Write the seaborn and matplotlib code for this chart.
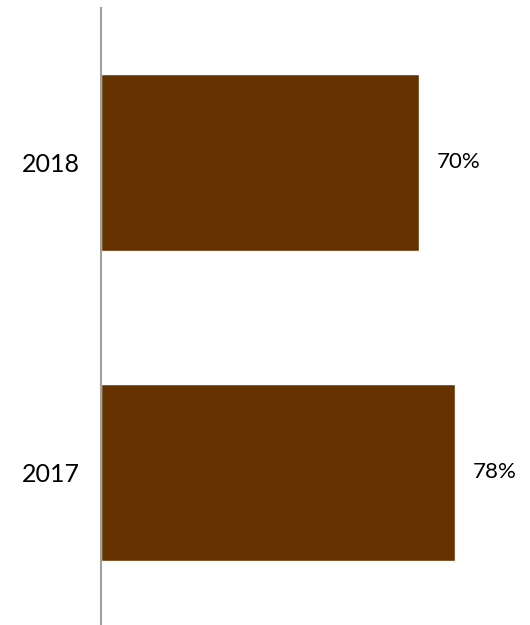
import matplotlib
matplotlib.use("Agg")
import matplotlib.pyplot as plt
import seaborn as sns
import pandas as pd

years = ["2018", "2017"]
values = [70, 78]
labels = ["70%", "78%"]

sns.set_style("white")
plt.rcParams['font.family'] = ['Lato', 'DejaVu Sans']

df = pd.DataFrame({"year": years, "value": values})

fig = plt.figure(figsize=(5.30, 6.25), dpi=100)
ax = fig.add_axes([101/530, -2.5/625, 429/530, 620/625])
sns.barplot(data=df, x="value", y="year", orient="h", color="#663300",
            saturation=1, width=0.571, ax=ax)

ax.set_xlim(0, 429/4.54)
ax.set_ylim(1.5, -0.5)
for s in ["top", "right", "bottom"]:
    ax.spines[s].set_visible(False)
ax.spines["left"].set_color("#a0a0a0")
ax.spines["left"].set_linewidth(1.5)
ax.set_xticks([])
ax.set_xlabel("")
ax.set_ylabel("")
ax.tick_params(axis="y", length=0, pad=15, labelsize=18)
for t in ax.get_yticklabels():
    t.set_color("#000000")

for i, (v, lab) in enumerate(zip(values, labels)):
    ax.annotate(lab, xy=(v, i), xytext=(18, 0), textcoords="offset pixels",
                va="center", ha="left", fontsize=16, color="#000000")

fig.savefig("out.png", dpi=100)
